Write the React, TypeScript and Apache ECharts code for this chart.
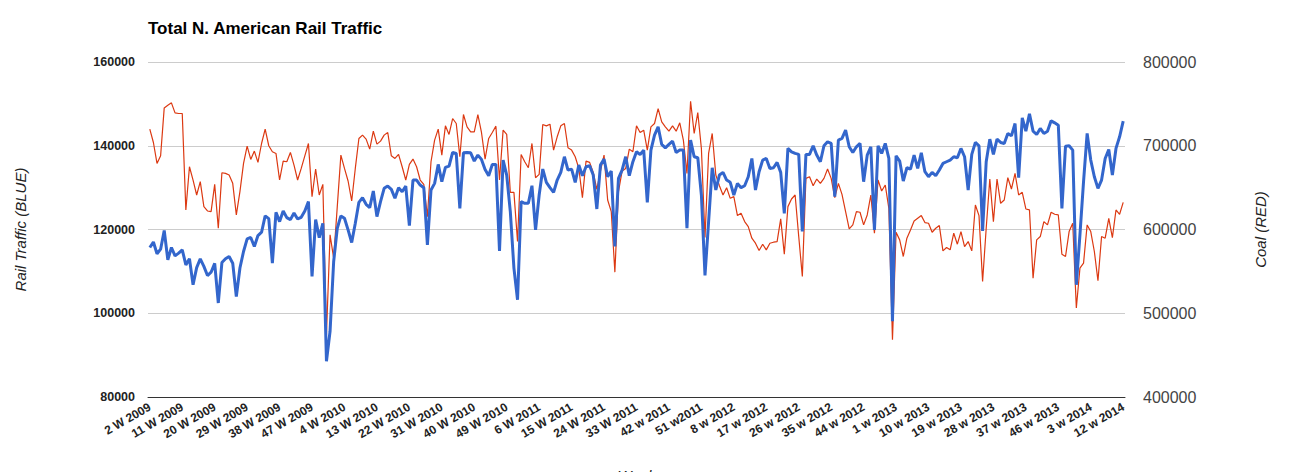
import { useEffect, useRef } from 'react';
import * as echarts from 'echarts';

// shown x labels (every 9th week), spelled as in the source
const tickLabels = [
  '2 W 2009', '11 W 2009', '20 W 2009', '29 W 2009', '38 W 2009', '47 W 2009',
  '4 W 2010', '13 W 2010', '22 W 2010', '31 W 2010', '40 W 2010', '49 W 2010',
  '6 W 2011', '15 W 2011', '24 W 2011', '33 W 2011', '42 w 2011', '51 w2011',
  '8 w 2012', '17 w 2012', '26 w 2012', '35 w 2012', '44 w 2012',
  '1 w 2013', '10 w 2013', '19 w 2013', '28 w 2013', '37 w 2013', '46 w 2013',
  '3 w 2014', '12 w 2014',
];

// weekly carloads + intermodal (left axis)
const rail = [
  115700, 117000, 114200, 115300, 119750, 112750, 115700, 113700, 114350, 115150,
  111550, 113000, 106800, 110900, 113000, 111200, 109000, 109800, 111900, 102450,
  112100, 113000, 113550, 111950, 104000, 110800, 114750, 117750, 118100, 115950,
  118550, 119350, 123250, 122600,
  111960, 124110, 121890, 124430, 122840, 122360, 123950, 122520, 122920, 124430,
  126650, 108790, 122360, 118070, 121490, 88540, 95690, 112360, 120300, 123240,
  122680, 119900, 116890, 121490, 126490, 127600, 126020, 125220, 129190, 123080,
  126650, 129830, 130380, 129590,
  127450, 129990, 129030, 130380, 120940, 131810, 131810, 130620, 129990, 116330,
  129430, 131020, 135540, 131420, 134830, 135150, 138400, 138170, 125060, 138320,
  138400, 138320, 136340, 137770, 136740, 134350, 132850, 135540, 135540, 114900,
  136580, 133000, 124270, 110780,
  103230, 126650, 126260, 126260, 130460, 119900, 128240, 134430, 131260, 129990,
  128880, 131810, 133640, 137370, 134200, 134430, 131260, 135390, 132850, 134990,
  135230, 133000, 124900, 135390, 136820, 132610, 133960, 115930, 132210, 134200,
  137370, 132850, 136180, 138560,
  137930, 138960, 126490, 138960, 142530, 144520, 140310, 139510, 140310, 141100,
  138400, 138960, 138960, 120300, 141340, 137370, 137130, 128240, 109030, 121890,
  134750, 129430, 133000, 133640, 131810, 131260, 128240, 131020, 129990, 130460,
  132610, 136970, 129430, 133800,
  136580, 136970, 134590, 134750, 136020, 133640, 123870, 139360, 138560, 138170,
  137930, 119510, 137930, 137930, 139990, 137770, 136180, 139990, 140940, 140550,
  127840, 141340, 141740, 143720, 139750, 138400, 139750, 140550, 131420, 137770,
  139750, 119900, 139990, 138170, 140550,
  136970, 98070, 137610, 136340, 131570, 134750, 134430, 137770, 134590, 138320,
  133800, 132610, 133640, 132850, 134200, 135780, 136180, 136580, 137370, 137130,
  139360, 137370, 129430, 137930, 140790, 139990, 119660, 136180, 141580, 137930,
  141580, 140790, 140550,
  142930, 142370, 145310, 132370, 146660, 143480, 147610, 143480, 142690, 144120,
  142930, 143480, 145950, 145470, 144910, 125060, 139910, 139990, 138960, 106800,
  118710, 131420, 142930, 136580, 132610, 129830, 131810, 136970, 139120, 133000,
  139360, 142140, 145870,
];

// weekly coal carloads (right axis)
const coal = [
  719800, 703900, 678900, 688000, 745200, 748400, 751200, 739300, 738500, 738500,
  623300, 674900, 659000, 641200, 657100, 627300, 622100, 621400, 653900, 601500,
  667800, 667000, 665000, 655100, 617400, 645200, 678900, 699600, 683700, 693600,
  680100, 702700, 719800, 700000,
  692800, 690800, 659100, 681700, 680900, 692000, 676900, 659100, 672900, 688000,
  702700, 639200, 672200, 641200, 653900, 474500, 593600, 565800, 627300, 688800,
  672900, 657900, 634100, 672900, 708700, 712700, 707900, 696000, 717400, 701900,
  705500, 712700, 715800, 688000,
  684870, 689630, 674950, 659070, 677720, 684080, 674950, 659070, 653900, 615400,
  680900, 706700, 719800, 688840, 723780, 713450, 732510, 726560, 686860, 737270,
  722590, 716630, 716630, 737270, 715840, 684080, 708700, 715840, 723380, 659070,
  718610, 713450, 644380, 644380,
  585620, 689630, 680900, 673750, 702740, 661850, 665810, 725360, 723780, 725760,
  694800, 710680, 723780, 726560, 697570, 694800, 686860, 672960, 638020, 681690,
  680110, 668200, 647950, 669790, 688840, 635240, 621350, 549100, 645170, 669790,
  672960, 695990, 692810, 723780,
  715840, 718620, 694800, 722590, 726560, 744420, 728540, 722590, 717420, 723780,
  717420, 727350, 706710, 667010, 753150, 714650, 739660, 696780, 590380, 690820,
  714650, 665020, 652320, 641200, 649930, 637230, 639220, 616590, 619370, 609440,
  603490, 589590, 583630, 574900,
  582440, 575700, 583630, 584830, 585620, 612620, 570530, 627310, 636440, 641200,
  591580, 543940, 661050, 663030, 652320, 660260, 655100, 661050, 672170, 661050,
  638020, 655100, 641990, 621350, 600710, 605470, 621350, 620560, 605470, 617380,
  641200, 595550, 659070, 645970, 653110,
  625320, 468510, 596740, 587610, 567760, 589590, 599520, 610230, 613410, 616590,
  608250, 607460, 596740, 601500, 604680, 574500, 578470, 575700, 595550, 582440,
  597530, 579670, 585620, 574500, 629290, 616590, 537980, 601500, 660260, 609440,
  660260, 631280, 635250,
  661850, 648350, 667010, 641200, 644380, 624530, 623340, 541950, 587610, 591580,
  609440, 605470, 620560, 618170, 617380, 570530, 567760, 597530, 607460, 506220,
  553860, 559820, 605470, 597530, 573710, 538770, 591580, 589590, 613410, 590380,
  623340, 618170, 632470,
];

// week 2 of 2009 .. week 12 of 2014, 52 weeks a year
const weeks: string[] = [];
for (let y = 2009; y <= 2014; y++) {
  for (let w = 1; w <= 52; w++) {
    if (y === 2009 && w < 2) continue;
    if (y === 2014 && w > 12) break;
    weeks.push(`${w} w ${y}`);
  }
}

const FONT = 'Arial, "Liberation Sans", sans-serif';
const plain = (v: number) => String(v);

export default function App() {
  const chartRef = useRef<HTMLDivElement>(null);

  useEffect(() => {
    if (!chartRef.current) return;
    const chart = echarts.init(chartRef.current, undefined, { renderer: 'svg' });

    chart.setOption({
      animation: false,
      backgroundColor: '#ffffff',
      title: {
        text: 'Total N. American Rail Traffic',
        left: 143,
        top: 15,
        textStyle: { fontFamily: FONT, fontSize: 17, fontWeight: 'bold', color: '#000' },
      },
      grid: {
        left: 148,
        right: 165,
        top: 62,
        bottom: 75,
        containLabel: false,
        outerBoundsMode: 'none',
      },
      xAxis: {
        type: 'category',
        data: weeks,
        boundaryGap: true,
        name: 'Week',
        nameLocation: 'middle',
        nameGap: 71,
        nameTextStyle: { fontFamily: FONT, fontSize: 15, fontStyle: 'italic', color: '#222' },
        axisLine: { lineStyle: { color: '#333', width: 1 } },
        axisTick: { show: false },
        axisLabel: {
          interval: 8,
          rotate: 30,
          margin: 9,
          fontFamily: FONT,
          fontSize: 12,
          fontWeight: 'bold',
          color: '#222',
          formatter: (_v: string, idx: number) => tickLabels[Math.round(idx / 9)] ?? '',
        },
        splitLine: { show: false },
      },
      yAxis: [
        {
          type: 'value',
          min: 80000,
          max: 160000,
          interval: 20000,
          position: 'left',
          name: 'Rail Traffic (BLUE)',
          nameLocation: 'middle',
          nameRotate: 90,
          nameGap: 120,
          nameTextStyle: { fontFamily: FONT, fontSize: 15, fontStyle: 'italic', color: '#222' },
          axisLine: { show: false },
          axisTick: { show: false },
          axisLabel: {
            margin: 13,
            fontFamily: FONT,
            fontSize: 12.5,
            fontWeight: 'bold',
            color: '#222',
            formatter: plain,
          },
          splitLine: { lineStyle: { color: '#cccccc', width: 1 } },
        },
        {
          type: 'value',
          min: 400000,
          max: 800000,
          interval: 100000,
          position: 'right',
          name: 'Coal (RED)',
          nameLocation: 'middle',
          nameRotate: 90,
          nameGap: 128,
          nameTextStyle: { fontFamily: FONT, fontSize: 15, fontStyle: 'italic', color: '#222' },
          axisLine: { show: false },
          axisTick: { show: false },
          axisLabel: {
            margin: 18,
            fontFamily: FONT,
            fontSize: 16,
            color: '#444',
            formatter: plain,
          },
          splitLine: { show: false },
        },
      ],
      series: [
        {
          name: 'Coal',
          type: 'line',
          yAxisIndex: 1,
          data: coal,
          showSymbol: false,
          symbol: 'none',
          lineStyle: { color: '#dc3912', width: 1.2 },
          itemStyle: { color: '#dc3912' },
          z: 2,
        },
        {
          name: 'Rail Traffic',
          type: 'line',
          yAxisIndex: 0,
          data: rail,
          showSymbol: false,
          symbol: 'none',
          lineStyle: { color: '#3366cc', width: 3 },
          itemStyle: { color: '#3366cc' },
          z: 3,
        },
      ],
    });

    return () => {
      chart.dispose();
    };
  }, []);

  return (
    <div
      ref={chartRef}
      style={{ position: 'fixed', left: 0, top: 0, width: 1290, height: 472 }}
    />
  );
}
